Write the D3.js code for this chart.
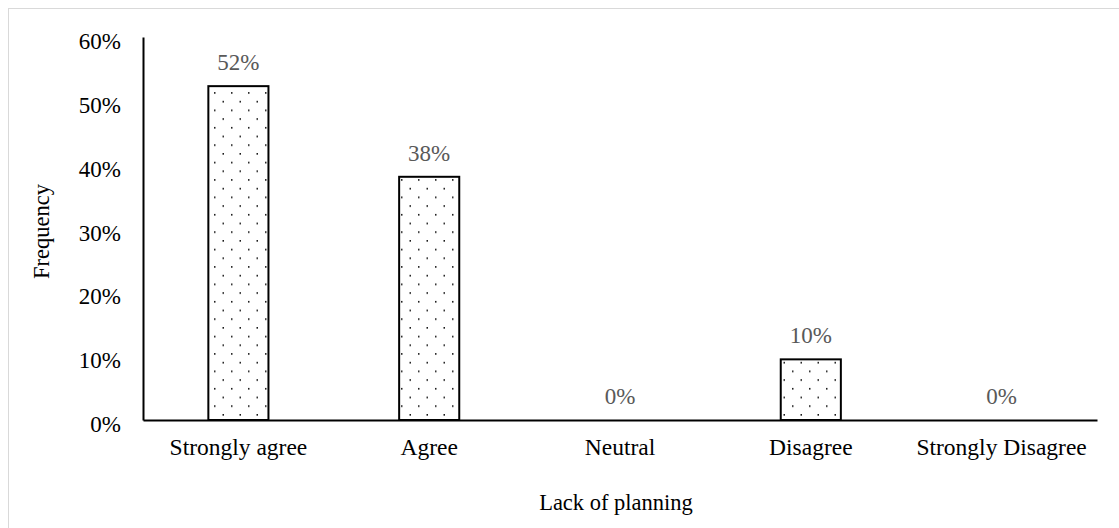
<!DOCTYPE html>
<html>
<head>
<meta charset="utf-8">
<script src="https://cdn.jsdelivr.net/npm/d3@7"></script>
<style>
  html, body { margin: 0; padding: 0; background: #fff; }
  svg { display: block; font-family: "Liberation Serif", "Times New Roman", serif; }
</style>
</head>
<body>
<svg id="chart" width="1119" height="528"></svg>
<script>
// Survey responses on "Lack of planning"
const categories = ["Strongly agree", "Agree", "Neutral", "Disagree", "Strongly Disagree"];
const values = [0.523, 0.381, 0, 0.095, 0];
const labels = ["52%", "38%", "0%", "10%", "0%"];
const yTicks = [0, 0.1, 0.2, 0.3, 0.4, 0.5, 0.6];

const FONT = "Liberation Serif, Times New Roman, serif";
const svg = d3.select("#chart");
const W = 1119, H = 528;
const margin = { left: 143, right: 22, top: 37, bottom: 108 };
const plotW = W - margin.left - margin.right;
const plotH = H - margin.top - margin.bottom;

// Outer frame
svg.append("rect")
  .attr("x", 8.5).attr("y", 8.5)
  .attr("width", W + 10).attr("height", H + 10)
  .attr("fill", "#fff").attr("stroke", "#d9d9d9").attr("stroke-width", 1);

// Dotted fill pattern for the bars
const defs = svg.append("defs");
const pat = defs.append("pattern")
  .attr("id", "dots")
  .attr("patternUnits", "userSpaceOnUse")
  .attr("width", 17).attr("height", 17.4);
pat.append("rect").attr("width", 17).attr("height", 17.4).attr("fill", "#fff");
pat.append("rect").attr("x", 3).attr("y", 3).attr("width", 1.5).attr("height", 1.5).attr("fill", "#000");
pat.append("rect").attr("x", 11.5).attr("y", 11.7).attr("width", 1.5).attr("height", 1.5).attr("fill", "#000");

const g = svg.append("g").attr("transform", `translate(${margin.left},${margin.top})`);

const x = d3.scaleBand().domain(categories).range([0, plotW]).paddingInner(0.685).paddingOuter(0.3425);
const y = d3.scaleLinear().domain([0, 0.6]).range([plotH, 0]);

const rows = categories.map((c, i) => ({ c, v: values[i], l: labels[i] }));

// Bars
g.selectAll("rect.bar")
  .data(rows)
  .join("rect")
  .attr("class", "bar")
  .attr("x", d => x(d.c))
  .attr("y", d => y(d.v))
  .attr("width", x.bandwidth())
  .attr("height", d => plotH - y(d.v))
  .attr("fill", "url(#dots)")
  .attr("stroke", d => d.v > 0 ? "#000" : "none")
  .attr("stroke-width", 2);

// Value labels
g.selectAll("text.val")
  .data(rows)
  .join("text")
  .attr("class", "val")
  .attr("x", d => x(d.c) + x.bandwidth() / 2)
  .attr("y", d => y(d.v) - 16)
  .attr("text-anchor", "middle")
  .attr("font-family", FONT)
  .style("font-size", "23px")
  .attr("fill", "#595959")
  .text(d => d.l);

// Y axis
const yAxis = g.append("g")
  .call(d3.axisLeft(y).tickValues(yTicks).tickFormat(d3.format(".0%")).tickSize(0).tickPadding(22));
yAxis.attr("font-size", null).attr("font-family", null);
yAxis.select(".domain").attr("stroke", "#000").attr("stroke-width", 2);
yAxis.selectAll("text").style("font-size", "23px").attr("fill", "#000")
  .attr("font-family", FONT).attr("dy", "0.5em");

// X axis
const xAxis = g.append("g").attr("transform", `translate(0,${plotH})`)
  .call(d3.axisBottom(x).tickSize(0).tickPadding(18));
xAxis.attr("font-size", null).attr("font-family", null);
xAxis.select(".domain").attr("stroke", "#000").attr("stroke-width", 2);
xAxis.selectAll("text").style("font-size", "23.5px").attr("fill", "#000")
  .attr("font-family", FONT);

// Axis titles
svg.append("text")
  .attr("x", 616).attr("y", 510)
  .attr("text-anchor", "middle").style("font-size", "22.5px").attr("fill", "#000")
  .attr("font-family", FONT)
  .text("Lack of planning");

svg.append("text")
  .attr("transform", `translate(49,${margin.top + plotH / 2 + 3}) rotate(-90)`)
  .attr("text-anchor", "middle").style("font-size", "22.5px").attr("fill", "#000")
  .attr("font-family", FONT)
  .text("Frequency");
</script>
</body>
</html>
